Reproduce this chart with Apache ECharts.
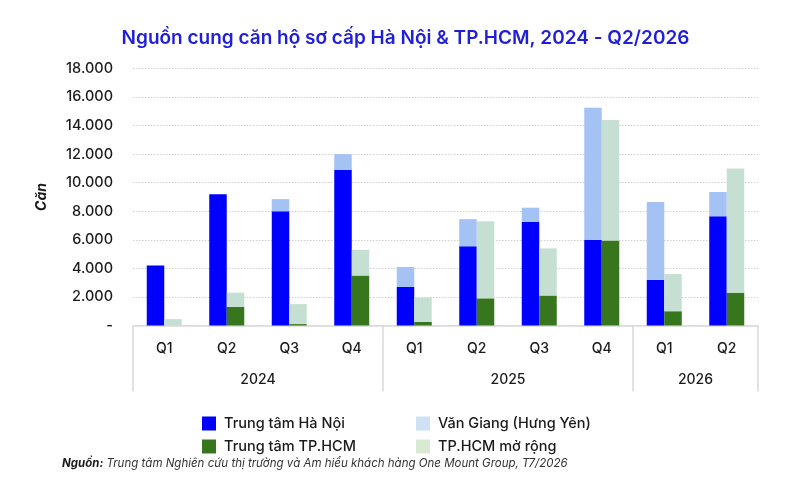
<!DOCTYPE html>
<html>
<head>
<meta charset="utf-8">
<script src="https://cdn.jsdelivr.net/npm/echarts@6/dist/echarts.min.js"></script>
<style>
html,body{margin:0;padding:0;background:#fff;}
#chart{width:811px;height:495px;}
</style>
</head>
<body>
<div id="chart"></div>
<script>
// ---- Data ----
const quarters = ['Q1','Q2','Q3','Q4','Q1','Q2','Q3','Q4','Q1','Q2'];
const years = ['2024','2025','2026'];
const yearSizes = [4, 4, 2];
const seriesNames = ['Trung tâm Hà Nội','Văn Giang (Hưng Yên)','Trung tâm TP.HCM','TP.HCM mở rộng'];
const hnCenter    = [4200, 9200, 8000, 10900, 2700, 5550, 7250, 6000, 3200, 7650];
const vanGiang    = [0, 0, 850, 1100, 1400, 1900, 1000, 9250, 5450, 1700];
const hcmCenter   = [0, 1300, 100, 3500, 250, 1900, 2100, 5950, 1000, 2300];
const hcmExpanded = [450, 1000, 1400, 1800, 1700, 5400, 3300, 8450, 2600, 8700];
const yTicks = [0, 2000, 4000, 6000, 8000, 10000, 12000, 14000, 16000, 18000];

const FONT = 'Inter, "Noto Sans", sans-serif';
const colors = ['#0000ff', '#a4c2f4', '#38761d', '#c5e0d3'];
const legendColors = ['#0000ff', '#cfe2f3', '#38761d', '#d9ead3'];

// year axis: half-quarter points, labels at group centres, ticks at group borders
const nHalf = quarters.length * 2;
const yearAxisData = [];
const yearBorders = [0];
const yearCentres = {};
let acc = 0;
yearSizes.forEach((s, i) => {
  yearCentres[(acc + s / 2) * 2] = years[i];
  acc += s;
  yearBorders.push(acc * 2);
});
for (let k = 0; k <= nHalf; k++) yearAxisData.push(yearCentres[k] || '');

const fmt = v => v === 0 ? '-' : String(v).replace(/\B(?=(\d{3})+(?!\d))/g, '.');

const chart = echarts.init(document.getElementById('chart'));
chart.setOption({
  backgroundColor: '#fff',
  animation: false,
  title: {
    text: 'Nguồn cung căn hộ sơ cấp Hà Nội & TP.HCM, 2024 - Q2/2026',
    left: 'center', top: 24,
    textStyle: {fontFamily: FONT, fontSize: 19, fontWeight: 600, color: '#1f1fd8'}
  },
  grid: {left: 133, right: 53, top: 68.5, bottom: 169.5},
  legend: [
    {
      orient: 'vertical', left: 197, top: 411, itemWidth: 14, itemHeight: 14, itemGap: 8,
      icon: 'rect',
      textStyle: {fontFamily: FONT, fontSize: 14.5, fontWeight: 500, color: '#1a1a1a', padding: [0,0,0,3]},
      data: [
        {name: seriesNames[0], itemStyle: {color: legendColors[0]}},
        {name: seriesNames[2], itemStyle: {color: legendColors[2]}}
      ]
    },
    {
      orient: 'vertical', left: 411, top: 411, itemWidth: 14, itemHeight: 14, itemGap: 8,
      icon: 'rect',
      textStyle: {fontFamily: FONT, fontSize: 14.5, fontWeight: 500, color: '#1a1a1a', padding: [0,0,0,3]},
      data: [
        {name: seriesNames[1], itemStyle: {color: legendColors[1]}},
        {name: seriesNames[3], itemStyle: {color: legendColors[3]}}
      ]
    }
  ],
  xAxis: [
    {
      type: 'category', data: quarters, position: 'bottom',
      axisLine: {lineStyle: {color: '#d9d9d9', width: 1.5}},
      axisTick: {show: false},
      axisLabel: {margin: 16, fontFamily: FONT, fontSize: 14, fontWeight: 500, color: '#1a1a1a', interval: 0}
    },
    {
      type: 'category', data: yearAxisData, position: 'bottom', boundaryGap: false,
      axisLine: {show: false},
      axisTick: {show: true, length: 66, interval: (i) => yearBorders.includes(i), lineStyle: {color: '#d9d9d9', width: 1.5}},
      axisLabel: {margin: 47, fontFamily: FONT, fontSize: 14, fontWeight: 500, color: '#1a1a1a', interval: 0},
      splitLine: {show: false}
    }
  ],
  yAxis: {
    type: 'value', min: yTicks[0], max: yTicks[yTicks.length - 1], interval: 2000,
    name: 'Căn', nameLocation: 'middle', nameGap: 84, nameRotate: 90,
    nameTextStyle: {fontFamily: FONT, fontSize: 14, fontWeight: 'bold', fontStyle: 'italic', color: '#1a1a1a'},
    axisLine: {show: false}, axisTick: {show: false},
    axisLabel: {margin: 20, formatter: fmt, fontFamily: FONT, fontSize: 14.5, fontWeight: 500, color: '#1a1a1a'},
    splitLine: {lineStyle: {type: [1.5, 1.5], color: '#cfcfcf', width: 1}}
  },
  series: [
    {name: seriesNames[0], type: 'bar', stack: 'hn', data: hnCenter, barWidth: 17.5, barGap: '0%', itemStyle: {color: colors[0]}},
    {name: seriesNames[1], type: 'bar', stack: 'hn', data: vanGiang, barWidth: 17.5, barGap: '0%', itemStyle: {color: colors[1]}},
    {name: seriesNames[2], type: 'bar', stack: 'hcm', data: hcmCenter, barWidth: 17.5, barGap: '0%', itemStyle: {color: colors[2]}},
    {name: seriesNames[3], type: 'bar', stack: 'hcm', data: hcmExpanded, barWidth: 17.5, barGap: '0%', itemStyle: {color: colors[3]}}
  ],
  graphic: [
    {
      type: 'text', left: 62, top: 458,
      style: {
        text: '{b|Nguồn:} Trung tâm Nghiên cứu thị trường và Am hiểu khách hàng One Mount Group, T7/2026',
        rich: {b: {fontFamily: FONT, fontSize: 11.5, fontStyle: 'italic', fontWeight: 'bold', fill: '#1a1a1a'}},
        fontFamily: FONT, fontSize: 11.5, fontStyle: 'italic', fill: '#333'
      }
    }
  ]
});
</script>
</body>
</html>
